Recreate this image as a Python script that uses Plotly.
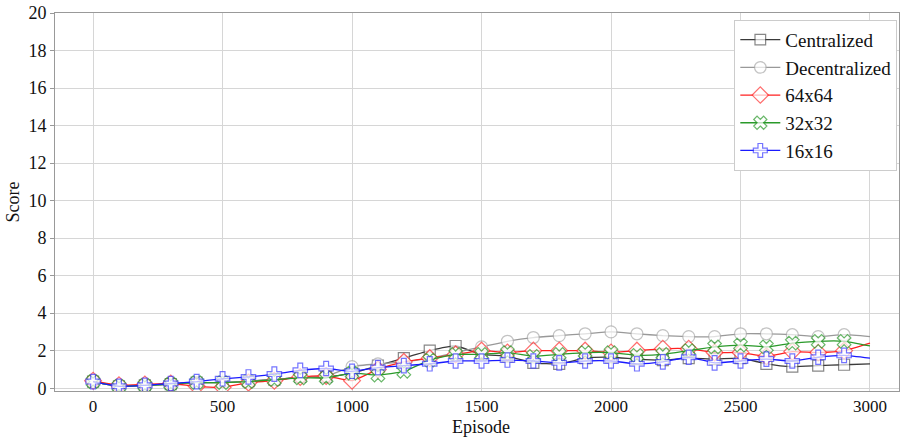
import plotly.graph_objects as go

episodes = list(range(0, 3001, 100))

centralized = [0.35, 0.1, 0.15, 0.22, 0.3, 0.3, 0.38, 0.45, 0.6, 0.6, 0.8, 1.2, 1.6, 2.0, 2.25, 1.8, 1.7, 1.35, 1.3, 1.6, 1.65, 1.55, 1.5, 1.6, 1.55, 1.6, 1.3, 1.15, 1.2, 1.25, 1.3]
decentralized = [0.35, 0.1, 0.15, 0.22, 0.3, 0.3, 0.38, 0.45, 0.6, 0.65, 1.15, 1.3, 1.4, 1.6, 1.9, 2.2, 2.5, 2.7, 2.8, 2.9, 3.0, 2.9, 2.8, 2.75, 2.75, 2.9, 2.9, 2.85, 2.75, 2.85, 2.75]
s64 = [0.4, 0.15, 0.2, 0.25, 0.1, 0.05, 0.3, 0.4, 0.6, 0.65, 0.4, 1.0, 1.4, 1.6, 1.8, 2.0, 1.9, 2.0, 2.0, 2.0, 1.9, 2.0, 2.1, 2.1, 1.9, 1.9, 1.7, 1.95, 1.9, 2.0, 2.4]
s32 = [0.35, 0.1, 0.15, 0.22, 0.3, 0.3, 0.35, 0.45, 0.55, 0.55, 0.8, 0.7, 0.9, 1.5, 1.8, 1.8, 1.9, 1.7, 1.8, 1.9, 1.9, 1.75, 1.8, 2.0, 2.2, 2.3, 2.2, 2.4, 2.5, 2.5, 2.25]
s16 = [0.35, 0.1, 0.15, 0.25, 0.35, 0.5, 0.6, 0.75, 0.95, 1.05, 0.9, 1.1, 1.2, 1.3, 1.45, 1.45, 1.5, 1.45, 1.35, 1.45, 1.45, 1.3, 1.4, 1.65, 1.35, 1.45, 1.55, 1.45, 1.65, 1.75, 1.6]

series = [
    ("Centralized", centralized, "#3a3a3a", "#555555", "square", 11),
    ("Decentralized", decentralized, "#999999", "#aaaaaa", "circle", 12),
    ("64x64", s64, "#ff2020", "#ff3030", "diamond", 13),
    ("32x32", s32, "#2a9a2a", "#2a9a2a", "x", 12),
    ("16x16", s16, "#1a1aff", "#3a3aff", "cross", 12),
]

fig = go.Figure()
for name, ys, lc, mc, sym, ms in series:
    n = len(ys)
    sizes = [ms] * (n - 1) + [0]
    fig.add_trace(go.Scatter(
        x=episodes, y=ys, name=name, mode="lines+markers",
        line=dict(color=lc, width=1.3, shape="spline", smoothing=0.5),
        marker=dict(symbol=sym, size=sizes, color="white",
                    line=dict(color=mc, width=1.2)),
    ))

font = "Liberation Serif, Times New Roman, serif"
fig.update_layout(
    width=901, height=438,
    margin=dict(l=55, r=2, t=13, b=47),
    paper_bgcolor="white", plot_bgcolor="white",
    font=dict(family=font, size=18, color="#111"),
    showlegend=True,
    legend=dict(x=0.998, y=0.982, xanchor="right", yanchor="top",
                bgcolor="white", bordercolor="#cccccc", borderwidth=1,
                font=dict(family=font, size=19, color="#111"),
                tracegroupgap=0, itemwidth=40),
    annotations=[dict(text="Episode", x=0.505, y=-0.095, xref="paper", yref="paper",
                      xanchor="center", yanchor="middle", showarrow=False,
                      font=dict(family=font, size=18, color="#111"))],
)
fig.update_xaxes(
    range=[-147, 3112], tickvals=[0, 500, 1000, 1500, 2000, 2500, 3000],
    showgrid=True, gridcolor="#d6d6d6", gridwidth=1,
    showline=True, linecolor="#999999", mirror=True,
    ticks="", tickfont=dict(size=17),
    zeroline=False, automargin=False,
)
fig.update_yaxes(
    range=[-0.15, 20], tickvals=list(range(0, 21, 2)),
    showgrid=True, gridcolor="#d6d6d6", gridwidth=1,
    showline=True, linecolor="#999999", mirror=True,
    ticks="outside", ticklen=4, tickcolor="#999999",
    title=dict(text="Score", standoff=4, font=dict(size=18)),
    zeroline=False, automargin=False,
)
fig.write_html("out.html")
